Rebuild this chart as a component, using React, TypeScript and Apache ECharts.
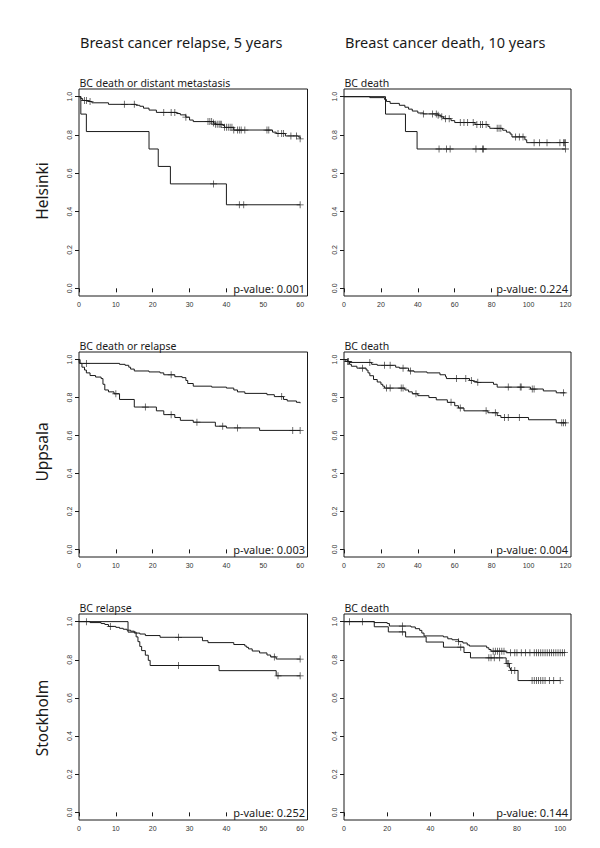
import React, { useEffect, useRef } from 'react';
import * as echarts from 'echarts';

// ---------- Data ----------
// Helsinki, 5 years: BC death or distant metastasis
const helA_t = [0, 0.5, 1, 2.5, 3.5, 8, 15.5, 16.5, 17.5, 19, 21, 26.5, 27.5, 29, 30, 31, 36.5, 37, 39, 39.5, 42, 52.5, 53.5, 56, 59.5, 60];
const helA_s = [1.0, 0.99, 0.98, 0.975, 0.968, 0.96, 0.955, 0.95, 0.94, 0.93, 0.918, 0.912, 0.905, 0.893, 0.878, 0.87, 0.862, 0.856, 0.85, 0.84, 0.826, 0.815, 0.808, 0.795, 0.79, 0.78];
const helA_c = [1.5, 2, 3, 12.3, 15, 23, 25, 26, 29, 35, 35.5, 36, 36.5, 37, 37.5, 38, 38.3, 38.6, 39.5, 40, 40.5, 41, 41.5, 42, 43, 43.5, 44, 45, 51, 51.5, 54, 55, 55.5, 57.5, 59, 60];
const helB_t = [0, 0.5, 2, 19, 21.5, 24.8, 40, 60];
const helB_s = [1, 0.909, 0.818, 0.727, 0.636, 0.545, 0.436, 0.436];
const helB_c = [36.5, 43.5, 44.7, 60];

// Helsinki, 10 years: BC death
const helC_t = [0, 14, 22, 23, 25, 30, 33, 35, 37, 40, 43, 51, 52.5, 54, 58, 60, 71, 78, 79, 86, 88, 90, 91, 98, 99, 120];
const helC_s = [1, 0.995, 0.985, 0.975, 0.965, 0.955, 0.945, 0.935, 0.925, 0.915, 0.91, 0.903, 0.895, 0.885, 0.875, 0.865, 0.855, 0.845, 0.835, 0.825, 0.815, 0.805, 0.79, 0.775, 0.76, 0.76];
const helC_c = [43, 48, 50, 51, 53, 55, 57, 63, 65, 67, 70, 72, 74, 75, 77, 83, 84, 85, 93, 95, 97, 103, 106, 110, 117, 119, 119.5, 120];
const helD_t = [0, 22.5, 33.3, 39.6, 120];
const helD_s = [1, 0.909, 0.818, 0.727, 0.727];
const helD_c = [51.5, 55.5, 57.5, 71.5, 75, 75.6, 120];

// Uppsala, 5 years: BC death or relapse
const uppA_t = [0, 0.1, 11, 12.5, 13.5, 14, 15, 19, 22, 23, 26, 28, 29, 29.5, 31, 36, 40, 42, 43, 45, 51, 53, 55.5, 56.5, 59, 60];
const uppA_s = [1, 0.98, 0.975, 0.97, 0.96, 0.95, 0.94, 0.935, 0.93, 0.92, 0.91, 0.905, 0.89, 0.874, 0.86, 0.855, 0.85, 0.84, 0.83, 0.822, 0.815, 0.805, 0.79, 0.782, 0.775, 0.77];
const uppA_c = [2, 25, 55];
const uppB_t = [0, 0.3, 0.8, 1.5, 2, 3, 4.5, 6, 6.5, 7, 8, 9.5, 11, 15, 21, 23, 26, 27.5, 31, 37, 40, 49, 60];
const uppB_s = [1, 0.98, 0.96, 0.945, 0.93, 0.916, 0.908, 0.9, 0.87, 0.84, 0.83, 0.82, 0.79, 0.75, 0.73, 0.71, 0.695, 0.68, 0.67, 0.649, 0.64, 0.627, 0.627];
const uppB_c = [10, 18, 25, 32, 39, 43, 58, 60];

// Uppsala, 10 years: BC death
const uppC_t = [0, 1, 3, 15, 18, 28, 30, 35, 38, 45, 52, 55, 55.5, 68, 70, 72, 81, 83, 101, 108, 115, 120];
const uppC_s = [1, 0.99, 0.985, 0.975, 0.97, 0.96, 0.955, 0.94, 0.935, 0.93, 0.92, 0.91, 0.9, 0.89, 0.885, 0.88, 0.87, 0.855, 0.845, 0.835, 0.825, 0.825];
const uppC_c = [2, 14, 22, 25, 32, 36, 61, 66, 69, 72.5, 89, 95.5, 96, 102, 103, 119];
const uppD_t = [0, 2, 3, 4, 7, 12, 13, 14, 16, 18, 20, 21, 22, 33, 35, 37, 40, 46, 50, 56, 60, 62, 65, 78, 83, 85, 100, 115, 120];
const uppD_s = [1, 0.99, 0.975, 0.965, 0.955, 0.945, 0.93, 0.915, 0.895, 0.882, 0.87, 0.86, 0.85, 0.84, 0.83, 0.82, 0.81, 0.8, 0.788, 0.775, 0.757, 0.745, 0.73, 0.72, 0.705, 0.695, 0.683, 0.667, 0.667];
const uppD_c = [2.5, 10, 23, 25, 31, 32, 39, 58, 63, 77, 82, 87, 89, 95, 118, 119, 120];

// Stockholm, 5 years: BC relapse
const stoA_t = [0, 3, 6, 7, 8, 10, 11, 12, 13, 14, 15, 16.5, 18, 22, 33.5, 35, 42, 45, 45.5, 46, 47, 49, 51, 52, 53.5, 60];
const stoA_s = [1, 0.995, 0.99, 0.985, 0.975, 0.97, 0.965, 0.96, 0.955, 0.95, 0.94, 0.935, 0.927, 0.918, 0.9, 0.89, 0.88, 0.872, 0.865, 0.857, 0.846, 0.836, 0.825, 0.815, 0.804, 0.804];
const stoA_c = [2, 8.5, 27, 53, 60];
const stoB_t = [0, 13.3, 15.5, 16, 16.5, 17, 18, 18.8, 19.3, 38, 53.5, 60];
const stoB_s = [1, 0.945, 0.92, 0.895, 0.87, 0.848, 0.824, 0.797, 0.77, 0.743, 0.716, 0.716];
const stoB_c = [27, 54, 60];

// Stockholm, 10 years: BC death
const stoC_t = [0, 14, 20, 21, 31, 33, 35, 36, 37, 46, 48, 50, 53, 55, 57, 58, 66, 67, 68, 75, 102];
const stoC_s = [1, 0.995, 0.99, 0.977, 0.972, 0.963, 0.954, 0.94, 0.925, 0.92, 0.91, 0.905, 0.895, 0.888, 0.878, 0.872, 0.863, 0.854, 0.845, 0.837, 0.837];
const stoC_c = [2.5, 8.5, 27, 53, 69, 70, 71, 72, 73, 74, 77, 79, 80, 82, 84, 86, 88, 89, 90, 91, 92, 93, 94, 95, 96, 97, 98, 99, 100, 101, 102];
const stoD_t = [0, 14, 20.5, 28.5, 38, 46, 55.5, 58.5, 75, 76.5, 77, 80.5, 100];
const stoD_s = [1, 0.973, 0.946, 0.92, 0.893, 0.866, 0.838, 0.81, 0.78, 0.757, 0.744, 0.691, 0.691];
const stoD_c = [27, 54, 67, 68, 69.5, 72, 75.5, 76.2, 77.5, 79, 87, 88, 89, 90, 91, 92, 93, 95, 97, 100];

const yTicks = [0, 0.2, 0.4, 0.6, 0.8, 1.0];
const xTicks60 = [0, 10, 20, 30, 40, 50, 60];
const xTicks120 = [0, 20, 40, 60, 80, 100, 120];
const xTicks100 = [0, 20, 40, 60, 80, 100];

const columnHeaders = ['Breast cancer relapse, 5 years', 'Breast cancer death, 10 years'];
const rowLabels = ['Helsinki', 'Uppsala', 'Stockholm'];
const panelTitles = ['BC death or distant metastasis', 'BC death', 'BC death or relapse', 'BC death', 'BC relapse', 'BC death'];
const pValues = ['0.001', '0.224', '0.003', '0.004', '0.252', '0.144'];

// ---------- Layout ----------
const COLS = [{ left: 79, width: 228.5 }, { left: 344, width: 227 }];
const ROWS = [{ top: 89, height: 207 }, { top: 352, height: 205 }, { top: 614, height: 206 }];
const ROW_LABEL_Y = [191, 452, 718];

type Curve = { t: number[]; s: number[]; c: number[] };
const panels: { curves: Curve[]; xmax: number; xticks: number[] }[] = [
  { curves: [{ t: helA_t, s: helA_s, c: helA_c }, { t: helB_t, s: helB_s, c: helB_c }], xmax: 62, xticks: xTicks60 },
  { curves: [{ t: helC_t, s: helC_s, c: helC_c }, { t: helD_t, s: helD_s, c: helD_c }], xmax: 123, xticks: xTicks120 },
  { curves: [{ t: uppA_t, s: uppA_s, c: uppA_c }, { t: uppB_t, s: uppB_s, c: uppB_c }], xmax: 62, xticks: xTicks60 },
  { curves: [{ t: uppC_t, s: uppC_s, c: uppC_c }, { t: uppD_t, s: uppD_s, c: uppD_c }], xmax: 123, xticks: xTicks120 },
  { curves: [{ t: stoA_t, s: stoA_s, c: stoA_c }, { t: stoB_t, s: stoB_s, c: stoB_c }], xmax: 62, xticks: xTicks60 },
  { curves: [{ t: stoC_t, s: stoC_s, c: stoC_c }, { t: stoD_t, s: stoD_s, c: stoD_c }], xmax: 105, xticks: xTicks100 },
];

function stepAt(t: number[], s: number[], x: number): number {
  let v = s[0];
  for (let i = 0; i < t.length; i++) {
    if (t[i] <= x) v = s[i];
    else break;
  }
  return v;
}

const INK = '#1a1a1a';
const SANS = '"Noto Sans", "Open Sans", sans-serif';
const SMALL = '"Liberation Sans", Arial, sans-serif';
const PLUS = 'path://M4,0 L5,0 L5,4 L9,4 L9,5 L5,5 L5,9 L4,9 L4,5 L0,5 L0,4 L4,4 Z';

function buildOption() {
  const grid: any[] = [];
  const xAxis: any[] = [];
  const yAxis: any[] = [];
  const series: any[] = [];
  const graphic: any[] = [];

  panels.forEach((p, i) => {
    const col = COLS[i % 2];
    const row = ROWS[Math.floor(i / 2)];
    grid.push({
      left: col.left, top: row.top, width: col.width, height: row.height,
      show: true, borderColor: INK, borderWidth: 1, backgroundColor: 'transparent',
      containLabel: false,
    });
    xAxis.push({
      type: 'value', gridIndex: i, min: 0, max: p.xmax,
      axisLine: { show: false },
      axisTick: { show: true, inside: false, length: 4, lineStyle: { color: INK, width: 1 }, customValues: p.xticks },
      axisLabel: { show: true, margin: 5, fontSize: 7, fontFamily: SMALL, color: '#333', customValues: p.xticks, formatter: (v: number) => String(v) },
      splitLine: { show: false },
    });
    yAxis.push({
      type: 'value', gridIndex: i, min: -0.04, max: 1.04,
      axisLine: { show: false },
      axisTick: { show: true, inside: false, length: 4, lineStyle: { color: INK, width: 1 }, customValues: yTicks },
      axisLabel: { show: true, margin: 6, rotate: 90, fontSize: 7, fontFamily: SMALL, color: '#333', customValues: yTicks, formatter: (v: number) => v.toFixed(1) },
      splitLine: { show: false },
    });
    p.curves.forEach((c) => {
      series.push({
        type: 'line', xAxisIndex: i, yAxisIndex: i, step: 'end',
        data: c.t.map((t, k) => [t, c.s[k]]),
        showSymbol: false, symbol: 'none',
        lineStyle: { color: INK, width: 1 },
        silent: true,
      });
      series.push({
        type: 'scatter', xAxisIndex: i, yAxisIndex: i,
        data: c.c.map((x) => [x, stepAt(c.t, c.s, x)]),
        symbol: PLUS, symbolSize: [7, 7],
        itemStyle: { color: INK },
        silent: true,
      });
    });

    graphic.push({
      type: 'text', x: col.left + 0.5, y: row.top - 6.5,
      style: { text: panelTitles[i], fontSize: 10.5, fontFamily: SANS, fill: INK, align: 'left', verticalAlign: 'middle' },
    });
    graphic.push({
      type: 'text', z: 100, x: Math.round(col.left + col.width - 3), y: Math.round(row.top + row.height - 8.5),
      style: { text: 'p-value: ' + pValues[i], fontSize: 11, fontFamily: SANS, fill: INK, align: 'right', verticalAlign: 'middle', backgroundColor: '#ffffff' },
    });
  });

  columnHeaders.forEach((h, j) => {
    graphic.push({
      type: 'text', x: COLS[j].left + 1, y: 42,
      style: { text: h, fontSize: 14.5, fontFamily: SANS, fill: INK, align: 'left', verticalAlign: 'middle' },
    });
  });
  rowLabels.forEach((r, k) => {
    graphic.push({
      type: 'text', x: 42, y: ROW_LABEL_Y[k], rotation: Math.PI / 2,
      style: { text: r, fontSize: 15.5, fontFamily: SANS, fill: INK, align: 'center', verticalAlign: 'middle' },
    });
  });

  return {
    animation: false,
    backgroundColor: '#ffffff',
    grid, xAxis, yAxis, series, graphic,
  };
}

export default function App() {
  const ref = useRef<HTMLDivElement>(null);
  useEffect(() => {
    if (!ref.current) return;
    const chart = echarts.init(ref.current, undefined, { renderer: 'svg' });
    chart.setOption(buildOption());
    return () => chart.dispose();
  }, []);
  return (
    <div
      ref={ref}
      style={{ position: 'absolute', left: 0, top: 0, width: 600, height: 848, background: '#fff' }}
    />
  );
}
